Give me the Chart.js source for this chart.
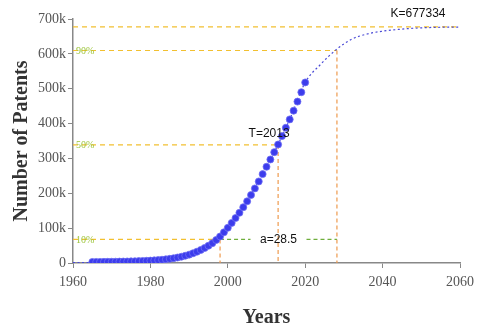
<!DOCTYPE html>
<html>
<head>
<meta charset="utf-8">
<script src="https://cdn.jsdelivr.net/npm/chart.js@4"></script>
<style>
  html, body { margin: 0; padding: 0; background: #fff; }
  #wrap { width: 480px; height: 331px; }
</style>
</head>
<body>
<div id="wrap"><canvas id="c" width="480" height="331"></canvas></div>
<script>
const years = [1965, 1966, 1967, 1968, 1969, 1970, 1971, 1972, 1973, 1974,
  1975, 1976, 1977, 1978, 1979, 1980, 1981, 1982, 1983, 1984,
  1985, 1986, 1987, 1988, 1989, 1990, 1991, 1992, 1993, 1994,
  1995, 1996, 1997, 1998, 1999, 2000, 2001, 2002, 2003, 2004,
  2005, 2006, 2007, 2008, 2009, 2010, 2011, 2012, 2013, 2014,
  2015, 2016, 2017, 2018, 2019, 2020]
const patents = [3000, 3100, 3200, 3300, 3500, 3600, 3800, 4000, 4200, 4400,
  4700, 5000, 5400, 5800, 6300, 6900, 7600, 8400, 9400, 10600,
  12000, 13700, 15700, 18000, 20800, 24000, 27800, 32200, 37300, 43000,
  49500, 57000, 66000, 76000, 88000, 101000, 115000, 129000, 144000, 160000,
  177000, 195000, 214000, 234000, 255000, 276000, 297000, 318000, 340000, 364000,
  388000, 412000, 437000, 463000, 490000, 518000]

// fitted logistic curve (dotted)
const fitYears = [1960, 1964, 1968, 1972, 1976, 1980, 1984, 1988, 1992, 1996,
  2000, 2004, 2008, 2012, 2016, 2020, 2024, 2028, 2032, 2036,
  2040, 2044, 2048, 2052, 2056, 2060]
const fitValues = [1000, 1500, 2000, 3000, 4000, 6000, 10000, 19000, 33000, 58000,
  102000, 158000, 236000, 318000, 412000, 518000, 570000, 612000, 642000, 657000,
  665000, 670000, 673500, 675500, 676500, 677000]

const xTicks = [1960, 1980, 2000, 2020, 2040, 2060]
const yTicks = [0, 100000, 200000, 300000, 400000, 500000, 600000, 700000]

// logistic parameters shown on the chart
const K = 677334
const T = 2013
const a = 28.5
const t10 = 1998
const t90 = 2028.2

const yellow = '#f2c030'
const orange = '#ee9a4e'
const green = '#6fae3c'
const pctGreen = '#9cc43a'

const refLines = {
  id: 'refLines',
  beforeDatasetsDraw(chart) {
    const { ctx, scales: { x, y }, chartArea } = chart
    ctx.save()
    ctx.lineWidth = 1.2
    ctx.setLineDash([5, 4])

    // horizontal yellow lines
    ctx.strokeStyle = yellow
    const hl = [[K, 2060], [K * 0.9, t90], [K * 0.5, T], [K * 0.1, t10]]
    hl.forEach(([v, end]) => {
      ctx.beginPath()
      ctx.moveTo(chartArea.left, y.getPixelForValue(v))
      ctx.lineTo(x.getPixelForValue(end), y.getPixelForValue(v))
      ctx.stroke()
    })

    // vertical orange lines
    ctx.strokeStyle = orange
    ctx.setLineDash([4, 3])
    const vl = [[t10, K * 0.1], [T, K * 0.5], [t90, K * 0.9]]
    vl.forEach(([t, v]) => {
      ctx.beginPath()
      ctx.moveTo(x.getPixelForValue(t), y.getPixelForValue(v))
      ctx.lineTo(x.getPixelForValue(t), chartArea.bottom)
      ctx.stroke()
    })

    // green span line a
    const yy = y.getPixelForValue(K * 0.1)
    const mid = (x.getPixelForValue(t10) + x.getPixelForValue(t90)) / 2
    ctx.strokeStyle = green
    ctx.setLineDash([4, 3])
    ctx.beginPath()
    ctx.moveTo(x.getPixelForValue(t10), yy)
    ctx.lineTo(mid - 28, yy)
    ctx.moveTo(mid + 28, yy)
    ctx.lineTo(x.getPixelForValue(t90), yy)
    ctx.stroke()
    ctx.setLineDash([])

    // percent labels
    ctx.font = '10px "Liberation Serif"'
    ctx.fillStyle = pctGreen
    ctx.textAlign = 'left'
    ctx.textBaseline = 'middle'
    ;[['10%', 0.1], ['50%', 0.5], ['90%', 0.9]].forEach(([t, f]) => {
      ctx.fillText(t, chartArea.left + 3, y.getPixelForValue(K * f) + 0.5)
    })

    ctx.font = '12px "Liberation Sans"'
    ctx.fillStyle = '#111'
    ctx.textAlign = 'center'
    ctx.fillText('a=' + a, mid, yy)
    ctx.restore()
  },
  afterDatasetsDraw(chart) {
    const { ctx, scales: { x, y } } = chart
    ctx.save()
    ctx.font = '12px "Liberation Sans"'
    ctx.fillStyle = '#111'
    ctx.textAlign = 'center'
    ctx.textBaseline = 'middle'
    ctx.fillText('T=' + T, x.getPixelForValue(T) - 9, y.getPixelForValue(K * 0.5) - 11)
    ctx.fillText('K=' + K, 418, 14)
    ctx.restore()
  }
}

new Chart(document.getElementById('c'), {
  type: 'line',
  data: {
    datasets: [
      {
        label: 'fit',
        data: fitYears.map((t, i) => ({ x: t, y: fitValues[i] })),
        borderColor: '#4a4ad6',
        borderWidth: 1.2,
        borderDash: [2, 2.5],
        pointRadius: 0,
        cubicInterpolationMode: 'monotone',
        fill: false,
        order: 2,
      },
      {
        label: 'patents',
        data: years.map((t, i) => ({ x: t, y: patents[i] })),
        showLine: false,
        pointRadius: 3.5,
        pointBackgroundColor: '#3c3cec',
        pointBorderColor: '#6e6ef4',
        pointBorderWidth: 0.8,
        order: 1,
      },
    ],
  },
  options: {
    responsive: false,
    animation: false,
    layout: { padding: { top: 19, right: 16, left: 0, bottom: 0 } },
    plugins: { legend: { display: false }, tooltip: { enabled: false } },
    scales: {
      x: {
        type: 'linear',
        min: 1960,
        max: 2060,
        afterBuildTicks: (s) => { s.ticks = xTicks.map((v) => ({ value: v })) },
        afterFit: (s) => { s.height = 68 },
        grid: { drawOnChartArea: false, drawTicks: true, tickLength: 5, color: '#888' },
        border: { color: '#888', width: 1.5 },
        ticks: {
          color: '#555',
          font: { family: 'Liberation Serif', size: 14 },
          padding: 6,
          maxRotation: 0,
          callback: (v) => String(v),
        },
        title: {
          display: true,
          text: 'Years',
          color: '#333',
          font: { family: 'Liberation Serif', size: 20, weight: 'bold' },
          padding: { top: 0, bottom: 1 },
        },
      },
      y: {
        min: 0,
        max: 700000,
        afterBuildTicks: (s) => { s.ticks = yTicks.map((v) => ({ value: v })) },
        afterFit: (s) => { s.width = 73 },
        grid: { drawOnChartArea: false, drawTicks: true, tickLength: 5, color: '#888' },
        border: { color: '#888', width: 1.5 },
        ticks: {
          color: '#555',
          font: { family: 'Liberation Serif', size: 14 },
          padding: 2,
          callback: (v) => (v === 0 ? '0' : v / 1000 + 'k'),
        },
        title: {
          display: true,
          text: 'Number of Patents',
          color: '#333',
          font: { family: 'Liberation Serif', size: 20, weight: 'bold' },
          padding: { top: 10, bottom: 0 },
        },
      },
    },
  },
  plugins: [refLines],
})
</script>
</body>
</html>
